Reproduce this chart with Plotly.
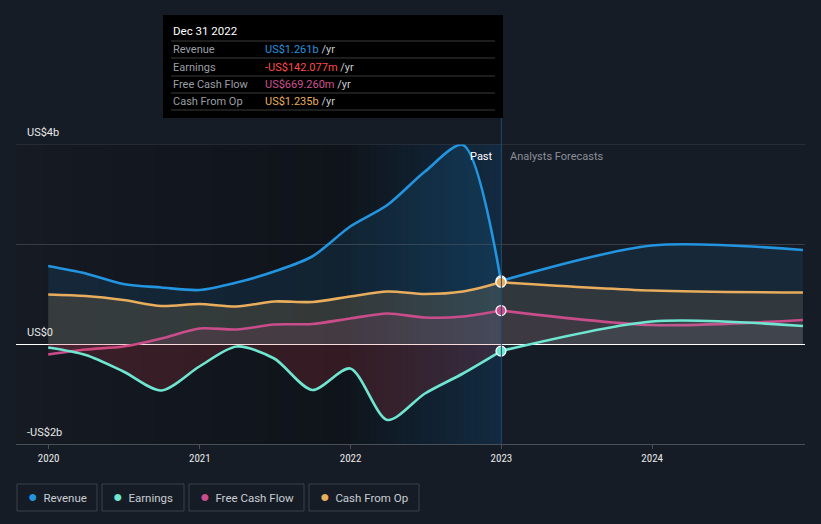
import plotly.graph_objects as go
from datetime import datetime, timedelta

# ---------------- data (US$ billions) ----------------
past_dates = ["2019-12-31", "2020-03-31", "2020-06-30", "2020-09-30",
              "2020-12-31", "2021-03-31", "2021-06-30", "2021-09-30",
              "2021-12-31", "2022-03-31", "2022-06-30", "2022-09-30",
              "2022-12-31"]
revenue_past = [1.56, 1.41, 1.20, 1.13, 1.08, 1.23, 1.45, 1.75, 2.35, 2.78, 3.45, 3.98, 1.261]
earnings_past = [-0.07, -0.22, -0.55, -0.93, -0.45, -0.05, -0.29, -0.92, -0.49, -1.52, -0.99, -0.59, -0.142]
fcf_past = [-0.21, -0.11, -0.05, 0.11, 0.31, 0.29, 0.39, 0.40, 0.51, 0.61, 0.53, 0.55, 0.669]
cfo_past = [0.99, 0.96, 0.88, 0.76, 0.80, 0.75, 0.85, 0.84, 0.95, 1.05, 1.00, 1.05, 1.235]

fc_dates = ["2022-12-31", "2023-12-31", "2024-12-31"]
revenue_fc = [1.261, 1.97, 1.88]
earnings_fc = [-0.142, 0.45, 0.36]
fcf_fc = [0.669, 0.38, 0.48]
cfo_fc = [1.235, 1.07, 1.03]

year_ticks = ["2020-01-01", "2021-01-01", "2022-01-01", "2023-01-01", "2024-01-01"]
year_labels = ["2020", "2021", "2022", "2023", "2024"]
y_ticks = [-2, 0, 2, 4]
y_labels = ["-US$2b", "US$0", "", "US$4b"]

C_REV = "#2394df"
C_EARN = "#6ee6d0"
C_FCF = "#c94d8b"
C_CFO = "#e8ad5d"
BG = "#161c26"

X_MIN, X_MAX = "2019-10-14", "2025-01-05"

fig = go.Figure()

def add_series(x, y, color, fill):
    fig.add_trace(go.Scatter(x=x, y=y, mode="lines", line=dict(color=color, width=2.6, shape="spline", smoothing=0.8),
                             fill="tozeroy", fillcolor=fill, hoverinfo="skip", showlegend=False))

add_series(past_dates, revenue_past, C_REV, "rgba(35,148,223,0.12)")
add_series(fc_dates, revenue_fc, C_REV, "rgba(35,148,223,0.10)")
add_series(past_dates, cfo_past, C_CFO, "rgba(232,173,93,0.16)")
add_series(fc_dates, cfo_fc, C_CFO, "rgba(232,173,93,0.12)")
add_series(past_dates, fcf_past, C_FCF, "rgba(201,77,139,0.12)")
add_series(fc_dates, fcf_fc, C_FCF, "rgba(201,77,139,0.08)")
add_series(past_dates, earnings_past, C_EARN, "rgba(220,60,70,0.18)")
add_series(fc_dates, earnings_fc, C_EARN, "rgba(110,230,208,0.07)")

# markers at the hovered date
for vals, col in [(revenue_past, C_REV), (cfo_past, C_CFO), (fcf_past, C_FCF), (earnings_past, C_EARN)]:
    fig.add_trace(go.Scatter(x=[past_dates[-1]], y=[vals[-1]], mode="markers",
                             marker=dict(color=col, size=10, line=dict(color="white", width=1.2)),
                             hoverinfo="skip", showlegend=False))

shapes = []
# background gradient strips
def dt(s):
    return datetime.strptime(s, "%Y-%m-%d")

def strips(x0, x1, c0, c1, n):
    a, b = dt(x0), dt(x1)
    step = (b - a) / n
    for i in range(n):
        t = i / (n - 1)
        c = tuple(int(round(c0[k] + (c1[k] - c0[k]) * t)) for k in range(3))
        shapes.append(dict(type="rect", xref="x", yref="paper", x0=a + step * i, x1=a + step * (i + 1) + timedelta(days=1),
                           y0=0, y1=1, fillcolor="rgb(%d,%d,%d)" % c, line=dict(width=0), layer="below"))

strips(X_MIN, "2022-01-01", (21, 26, 35), (15, 19, 26), 24)
strips("2022-01-01", "2023-01-01", (15, 22, 30), (18, 42, 64), 24)

# top grid line (at the range edge)
shapes.append(dict(type="line", xref="paper", yref="y", x0=0, x1=1, y0=4, y1=4,
                   line=dict(color="#383d45", width=1)))

# vertical line at forecast boundary
shapes.append(dict(type="line", xref="x", yref="paper", x0="2023-01-01", x1="2023-01-01", y0=0, y1=(444 - 118) / 300,
                   line=dict(color="#1f4b70", width=1)))

def px(x):
    return (x - 16) / 789

def py(y):
    return (444 - y) / 300

# tooltip box
shapes.append(dict(type="rect", xref="paper", yref="paper", x0=px(163), x1=px(503), y0=py(118), y1=py(15),
                   fillcolor="#000000", line=dict(width=0)))
for yy in [41, 58, 76, 93, 110]:
    shapes.append(dict(type="line", xref="paper", yref="paper", x0=px(171), x1=px(495), y0=py(yy), y1=py(yy),
                       line=dict(color="#3a3a3a", width=1)))

annotations = []
FONT = "Roboto, Noto Sans, sans-serif"
annotations.append(dict(xref="paper", yref="paper", x=px(171), y=py(31), xanchor="left", yanchor="middle",
                        text="Dec 31 2022", showarrow=False, font=dict(family=FONT, size=11.5, color="#ffffff")))
rows = [("Revenue", "US$1.261b", C_REV, 49.5),
        ("Earnings", "-US$142.077m", "#ff4b4b", 67),
        ("Free Cash Flow", "US$669.260m", "#d0508f", 84.5),
        ("Cash From Op", "US$1.235b", C_CFO, 101.5)]
for lab, val, col, yy in rows:
    annotations.append(dict(xref="paper", yref="paper", x=px(171), y=py(yy), xanchor="left", yanchor="middle",
                            text=lab, showarrow=False, font=dict(family=FONT, size=11, color="#9a9fa6")))
    annotations.append(dict(xref="paper", yref="paper", x=px(263), y=py(yy), xanchor="left", yanchor="middle",
                            text="<span style='color:%s'>%s</span> /yr" % (col, val), showarrow=False,
                            font=dict(family=FONT, size=11, color="#c8ccd2")))

# y labels above grid lines
for v, t in zip(y_ticks, y_labels):
    if t:
        annotations.append(dict(xref="paper", yref="y", x=px(25), y=v, xanchor="left", yanchor="bottom", yshift=3,
                                text=t, showarrow=False, font=dict(family=FONT, size=11, color="#e8e8e8")))

# Past / Forecast labels
annotations.append(dict(xref="x", yref="paper", x="2023-01-01", y=py(156), xanchor="right", yanchor="middle", xshift=-6,
                        text="Past", showarrow=False, font=dict(family=FONT, size=11, color="#ffffff")))
annotations.append(dict(xref="x", yref="paper", x="2023-01-01", y=py(156), xanchor="left", yanchor="middle", xshift=7,
                        text="Analysts Forecasts", showarrow=False, font=dict(family=FONT, size=11, color="#8a8f97")))

# legend boxes
legend = [("Revenue", C_REV, 17, 97), ("Earnings", C_EARN, 102, 184),
          ("Free Cash Flow", C_FCF, 189, 304), ("Cash From Op", C_CFO, 309, 419)]
for lab, col, x0, x1 in legend:
    shapes.append(dict(type="rect", xref="paper", yref="paper", x0=px(x0), x1=px(x1), y0=py(511), y1=py(484),
                       fillcolor="rgba(0,0,0,0)", line=dict(color="#3b414b", width=1)))
    annotations.append(dict(xref="paper", yref="paper", x=px(x0 + 9), y=py(496.5), xanchor="left", yanchor="middle",
                            text="<span style='color:%s;font-size:16px'>●</span>  %s" % (col, lab), showarrow=False,
                            font=dict(family=FONT, size=11.5, color="#c8ccd2")))

fig.update_layout(
    width=821, height=524,
    margin=dict(l=16, r=16, t=144, b=80),
    paper_bgcolor=BG, plot_bgcolor=BG,
    showlegend=False,
    shapes=shapes, annotations=annotations,
    xaxis=dict(type="date", range=[X_MIN, X_MAX], tickvals=year_ticks, ticktext=year_labels,
               showgrid=False, zeroline=False, showline=True, linecolor="#4a4f57", linewidth=1,
               ticks="outside", ticklen=4, tickcolor="#4a4f57",
               tickfont=dict(family="Roboto Condensed, Roboto, sans-serif", size=11, color="#e8e8e8")),
    yaxis=dict(range=[-2, 4], tickvals=y_ticks, showticklabels=False, showgrid=True, gridcolor="#383d45",
               gridwidth=1, zeroline=True, zerolinecolor="#ffffff", zerolinewidth=1.2, showline=False),
)

fig.write_html("out.html", config={"displayModeBar": False},
               post_script="document.body.style.margin='0';document.body.style.background='%s';" % BG)
